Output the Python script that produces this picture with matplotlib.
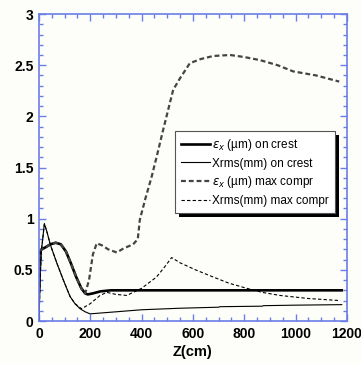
import matplotlib.pyplot as plt
from matplotlib.ticker import MultipleLocator, FormatStrFormatter

# emittance on crest (um)
z_emit_crest = [0, 3, 10, 25, 45, 65, 85, 105, 125, 145, 165, 180, 190, 210, 240, 280, 330, 400, 600, 800, 1000, 1180]
emit_crest = [0.30, 0.68, 0.70, 0.72, 0.75, 0.765, 0.75, 0.68, 0.56, 0.43, 0.32, 0.27, 0.26, 0.27, 0.29, 0.30, 0.30, 0.30, 0.30, 0.30, 0.30, 0.30]

# Xrms on crest (mm)
z_xrms_crest = [0, 5, 10, 21, 30, 45, 69, 95, 121, 140, 160, 180, 199, 300, 400, 550, 700, 705, 870, 875, 1000, 1180]
xrms_crest = [0.0, 0.45, 0.70, 0.95, 0.88, 0.74, 0.57, 0.40, 0.24, 0.17, 0.12, 0.09, 0.07, 0.09, 0.11, 0.125, 0.135, 0.14, 0.145, 0.15, 0.155, 0.16]

# emittance at max compression (um)
z_emit_max = [0, 3, 10, 25, 45, 65, 85, 105, 125, 145, 165, 180, 195, 210, 225, 245, 270, 303, 330, 367, 385, 393, 415, 439, 460, 484, 505, 523, 549, 588, 630, 679, 744, 800, 861, 930, 990, 1080, 1170]
emit_max = [0.30, 0.68, 0.70, 0.72, 0.75, 0.765, 0.75, 0.68, 0.56, 0.43, 0.32, 0.27, 0.40, 0.65, 0.76, 0.74, 0.70, 0.67, 0.71, 0.75, 0.80, 0.99, 1.20, 1.41, 1.62, 1.87, 2.08, 2.26, 2.37, 2.52, 2.56, 2.59, 2.60, 2.58, 2.55, 2.50, 2.44, 2.40, 2.34]

# Xrms at max compression (mm)
z_xrms_max = [0, 5, 10, 21, 30, 45, 69, 95, 121, 140, 166, 200, 238, 264, 300, 342, 400, 458, 490, 517, 549, 610, 679, 740, 809, 870, 939, 1050, 1172]
xrms_max = [0.0, 0.45, 0.70, 0.95, 0.88, 0.74, 0.57, 0.40, 0.24, 0.17, 0.12, 0.17, 0.25, 0.28, 0.26, 0.25, 0.32, 0.43, 0.53, 0.62, 0.57, 0.50, 0.43, 0.37, 0.32, 0.28, 0.25, 0.22, 0.20]

labels = [r'$\varepsilon_{x}$ (µm) on crest', 'Xrms(mm) on crest',
          r'$\varepsilon_{x}$ (µm) max compr', 'Xrms(mm) max compr']

bg = '#fdfdf9'
blue = '#6a7ee6'

fig = plt.figure(figsize=(3.61, 3.65), dpi=100, facecolor=bg)
ax = fig.add_axes([0.108, 0.1205, 0.853, 0.841], facecolor=bg)

ax.plot(z_emit_crest, emit_crest, color='black', lw=1.9, label=labels[0])
ax.plot(z_xrms_crest, xrms_crest, color='black', lw=0.8, label=labels[1])
ax.plot(z_emit_max, emit_max, color='#444444', lw=1.6, ls=(0, (2.2, 1.3)), label=labels[2])
ax.plot(z_xrms_max, xrms_max, color='black', lw=0.8, ls=(0, (3, 2)), label=labels[3])

ax.set_xlim(0, 1200)
ax.set_ylim(0, 3)
ax.xaxis.set_major_locator(MultipleLocator(200))
ax.xaxis.set_minor_locator(MultipleLocator(50))
ax.yaxis.set_major_locator(MultipleLocator(0.5))
ax.yaxis.set_minor_locator(MultipleLocator(0.1))
ax.yaxis.set_major_formatter(FormatStrFormatter('%g'))

for s in ax.spines.values():
    s.set_color(blue)
    s.set_linewidth(1.2)
ax.tick_params(which='both', direction='in', top=True, right=True, color=blue, width=1.0)
ax.tick_params(which='major', length=5, labelsize=10, pad=4)
ax.tick_params(which='minor', length=3)
for t in ax.get_xticklabels() + ax.get_yticklabels():
    t.set_fontweight('bold')
    t.set_family('Liberation Sans')

ax.set_xlabel('Z(cm)', fontsize=10.5, fontweight='bold', family='Liberation Sans', labelpad=3)

leg = ax.legend(loc='upper left', bbox_to_anchor=(175 / 361, 1 - 131 / 365),
                bbox_transform=fig.transFigure, borderaxespad=0,
                prop={'family': 'Liberation Sans', 'size': 8.5},
                frameon=True, fancybox=False, edgecolor='#555555', facecolor='white', framealpha=1,
                handlelength=2.5, handletextpad=0.15, borderpad=0.5, labelspacing=0.4)
leg.get_frame().set_linewidth(0.8)

# thick black drop shadow behind the legend box
fig.canvas.draw()
bb = leg.get_window_extent()
shadow = plt.Rectangle((bb.x0 + 4, bb.y0 - 4), bb.width, bb.height, transform=None,
                       facecolor='black', edgecolor='none', zorder=4.9, clip_on=False)
ax.add_artist(shadow)

fig.savefig('out.png', dpi=100, facecolor=bg)
